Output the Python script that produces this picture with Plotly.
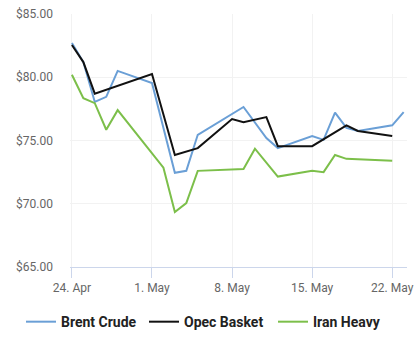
import plotly.graph_objects as go

brent_dates = ["2018-04-24", "2018-04-25", "2018-04-26", "2018-04-27", "2018-04-28",
               "2018-05-01", "2018-05-03", "2018-05-04", "2018-05-05", "2018-05-09",
               "2018-05-11", "2018-05-12", "2018-05-15", "2018-05-16", "2018-05-17",
               "2018-05-18", "2018-05-19", "2018-05-22", "2018-05-23"]
brent_vals = [82.7, 81.2, 78.05, 78.45, 80.5, 79.55, 72.45, 72.6, 75.45, 77.65,
              75.2, 74.4, 75.35, 75.05, 77.2, 76.0, 75.75, 76.2, 77.25]

opec_dates = ["2018-04-24", "2018-04-25", "2018-04-26", "2018-05-01", "2018-05-03",
              "2018-05-05", "2018-05-08", "2018-05-09", "2018-05-11", "2018-05-12",
              "2018-05-15", "2018-05-18", "2018-05-19", "2018-05-22"]
opec_vals = [82.55, 81.2, 78.7, 80.25, 73.85, 74.4, 76.7, 76.45, 76.85, 74.55,
             74.55, 76.2, 75.75, 75.35]

iran_dates = ["2018-04-24", "2018-04-25", "2018-04-26", "2018-04-27", "2018-04-28",
              "2018-05-02", "2018-05-03", "2018-05-04", "2018-05-05", "2018-05-09",
              "2018-05-10", "2018-05-12", "2018-05-15", "2018-05-16", "2018-05-17",
              "2018-05-18", "2018-05-22"]
iran_vals = [80.2, 78.35, 77.95, 75.85, 77.4, 72.85, 69.35, 70.05, 72.6, 72.75,
             74.35, 72.15, 72.6, 72.5, 73.85, 73.55, 73.4]

tick_dates = ["2018-04-24", "2018-05-01", "2018-05-08", "2018-05-15", "2018-05-22"]
tick_labels = ["24. Apr", "1. May", "8. May", "15. May", "22. May"]
y_ticks = [65, 70, 75, 80, 85]
y_labels = ["$65.00", "$70.00", "$75.00", "$80.00", "$85.00"]

fig = go.Figure()
fig.add_trace(go.Scatter(x=brent_dates, y=brent_vals, name="Brent Crude", mode="lines",
                         line=dict(color="#6a9fd6", width=2), legend="legend"))
fig.add_trace(go.Scatter(x=opec_dates, y=opec_vals, name="Opec Basket", mode="lines",
                         line=dict(color="#111111", width=2), legend="legend2"))
fig.add_trace(go.Scatter(x=iran_dates, y=iran_vals, name="Iran Heavy", mode="lines",
                         line=dict(color="#7cbf4a", width=2), legend="legend3"))

leg_font = dict(family="Roboto", size=14, color="#222222", weight="bold")


def leg(xpx):
    return dict(orientation="h", xref="container", yref="container",
                x=xpx / 418, xanchor="left", y=0.085, yanchor="middle",
                font=leg_font, bgcolor="rgba(0,0,0,0)")


fig.update_layout(
    width=418, height=352,
    margin=dict(l=70, r=11, t=14, b=85, autoexpand=False),
    paper_bgcolor="white", plot_bgcolor="white",
    font=dict(family="Roboto", color="#666666", size=12),
    showlegend=True,
    legend=leg(21), legend2=leg(144), legend3=leg(273),
    xaxis=dict(range=["2018-04-23 20:00", "2018-05-23 07:00"],
               tickvals=tick_dates, ticktext=tick_labels,
               showgrid=True, gridcolor="#f2f2f2", gridwidth=1,
               showline=True, linecolor="#ccd6eb", linewidth=1,
               ticks="outside", ticklen=10, tickcolor="#ccd6eb",
               tickfont=dict(size=12, color="#666666"), zeroline=False),
    yaxis=dict(range=[65, 85], tickvals=y_ticks, ticktext=y_labels,
               showgrid=True, gridcolor="#f2f2f2", gridwidth=1,
               showline=False, zeroline=False, ticklabelstandoff=16,
               tickfont=dict(size=12, color="#666666")),
)

fig.write_html("out.html")
